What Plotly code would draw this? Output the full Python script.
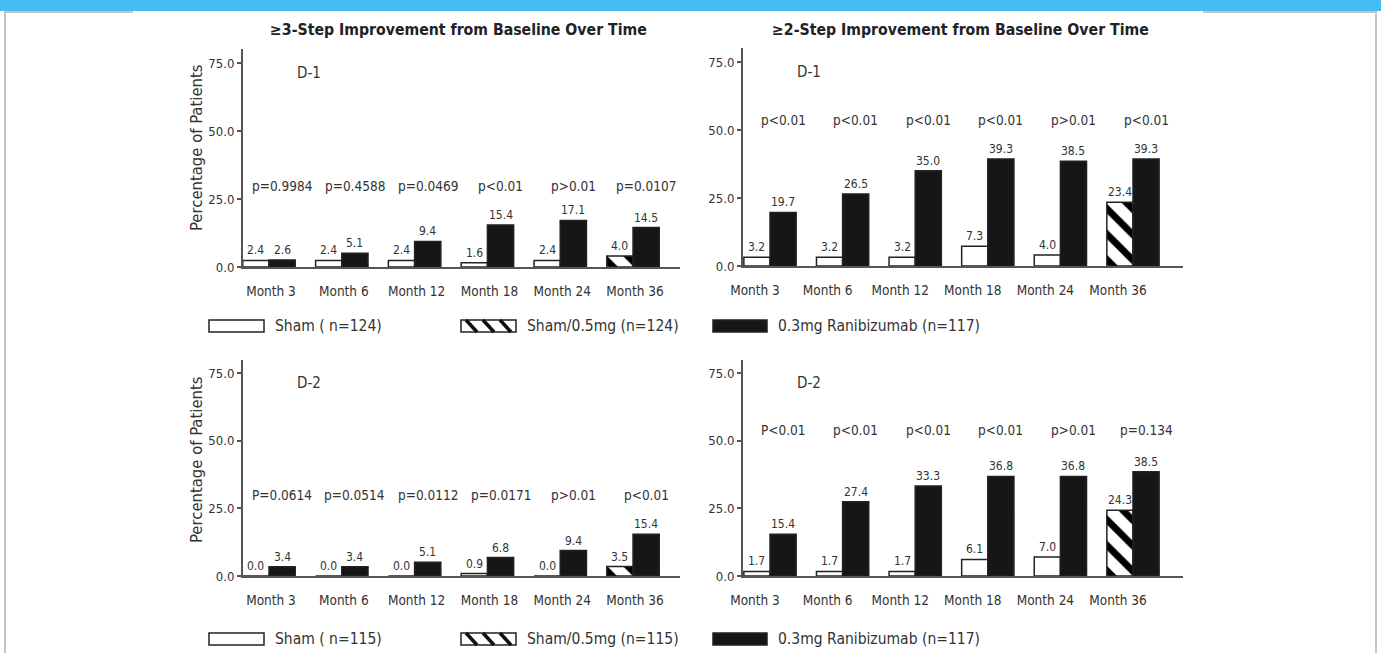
import plotly.graph_objects as go

# ---- data -------------------------------------------------------------
months = ["Month 3", "Month 6", "Month 12", "Month 18", "Month 24", "Month 36"]

# D-1, >=3-step improvement
d1_s3_sham = [2.4, 2.4, 2.4, 1.6, 2.4, None]
d1_s3_sham05 = [None, None, None, None, None, 4.0]
d1_s3_rbz = [2.6, 5.1, 9.4, 15.4, 17.1, 14.5]
d1_s3_p = ["p=0.9984", "p=0.4588", "p=0.0469", "p<0.01", "p>0.01", "p=0.0107"]

# D-1, >=2-step improvement
d1_s2_sham = [3.2, 3.2, 3.2, 7.3, 4.0, None]
d1_s2_sham05 = [None, None, None, None, None, 23.4]
d1_s2_rbz = [19.7, 26.5, 35.0, 39.3, 38.5, 39.3]
d1_s2_p = ["p<0.01", "p<0.01", "p<0.01", "p<0.01", "p>0.01", "p<0.01"]

# D-2, >=3-step improvement
d2_s3_sham = [0.0, 0.0, 0.0, 0.9, 0.0, None]
d2_s3_sham05 = [None, None, None, None, None, 3.5]
d2_s3_rbz = [3.4, 3.4, 5.1, 6.8, 9.4, 15.4]
d2_s3_p = ["P=0.0614", "p=0.0514", "p=0.0112", "p=0.0171", "p>0.01", "p<0.01"]

# D-2, >=2-step improvement
d2_s2_sham = [1.7, 1.7, 1.7, 6.1, 7.0, None]
d2_s2_sham05 = [None, None, None, None, None, 24.3]
d2_s2_rbz = [15.4, 27.4, 33.3, 36.8, 36.8, 38.5]
d2_s2_p = ["P<0.01", "p<0.01", "p<0.01", "p<0.01", "p>0.01", "p=0.134"]

legend_d1 = ["Sham ( n=124)", "Sham/0.5mg (n=124)", "0.3mg Ranibizumab (n=117)"]
legend_d2 = ["Sham ( n=115)", "Sham/0.5mg (n=115)", "0.3mg Ranibizumab (n=117)"]

col_titles = ["\u22653-Step Improvement from Baseline Over Time",
              "\u22652-Step Improvement from Baseline Over Time"]

# ---- styling ----------------------------------------------------------
W, H = 1381, 653
FONT = "Liberation Sans Narrow, Arial Narrow, DejaVu Sans Condensed, sans-serif"
TXT = "#333333"
AX = "#555555"
BAR_W = 0.36


def px(x):
    return x / W


def py(y):
    return 1 - y / H


panels = [
    # (sham, sham05, rbz, pvals, p_y, label, x-domain px, y-domain px, x-range, tick shift)
    (d1_s3_sham, d1_s3_sham05, d1_s3_rbz, d1_s3_p, 29.8, "D-1", (243, 680), (267, 49.4), (-0.357, 5.645), 2),
    (d1_s2_sham, d1_s2_sham05, d1_s2_rbz, d1_s2_p, 53.8, "D-1", (743, 1183), (266, 48.4), (-0.372, 5.689), -15),
    (d2_s3_sham, d2_s3_sham05, d2_s3_rbz, d2_s3_p, 29.8, "D-2", (243, 680), (576, 359.5), (-0.357, 5.645), 2),
    (d2_s2_sham, d2_s2_sham05, d2_s2_rbz, d2_s2_p, 53.8, "D-2", (743, 1183), (576, 359.5), (-0.372, 5.689), -15),
]

fig = go.Figure()
annotations = []
shapes = []
xs = list(range(len(months)))


def paper_text(x, y, text, size, color=TXT, xanchor="center", angle=0):
    return dict(x=px(x), y=py(y), xref="paper", yref="paper", text=text, showarrow=False,
                xanchor=xanchor, yanchor="middle", textangle=angle,
                font=dict(family=FONT, size=size, color=color))


for k, (sham, sham05, rbz, pvals, p_y, lab, xd, yd, xr, tshift) in enumerate(panels):
    n = "" if k == 0 else str(k + 1)
    xa, ya = "x" + n, "y" + n
    line = dict(color="#222222", width=1.5)
    fig.add_trace(go.Bar(x=xs, y=sham, xaxis=xa, yaxis=ya, offset=-BAR_W, width=BAR_W,
                         marker=dict(color="white", line=line), showlegend=False))
    fig.add_trace(go.Bar(x=xs, y=sham05, xaxis=xa, yaxis=ya, offset=-BAR_W, width=BAR_W,
                         marker=dict(color="white", line=line,
                                     pattern=dict(shape="\\", fgcolor="#000000", bgcolor="white",
                                                  fgopacity=1, size=18, solidity=0.38)),
                         showlegend=False))
    fig.add_trace(go.Bar(x=xs, y=rbz, xaxis=xa, yaxis=ya, offset=0, width=BAR_W,
                         marker=dict(color="#161616", line=line), showlegend=False))

    fig.layout["xaxis" + n] = dict(
        domain=[px(xd[0]), px(xd[1])], range=list(xr), anchor=ya, automargin=False,
        tickvals=xs, ticktext=months, ticks="", showgrid=False, zeroline=False,
        showline=True, linecolor=AX, linewidth=2,
        tickfont=dict(family=FONT, size=13.5, color=TXT), ticklabelshift=tshift,
        ticklabelstandoff=11, fixedrange=True)
    fig.layout["yaxis" + n] = dict(
        domain=[py(yd[0]), py(yd[1])], range=[0, 80], anchor=xa, automargin=False,
        tickvals=[0, 25, 50, 75], tickformat=".1f", ticks="outside", ticklen=4,
        tickcolor=AX, tickwidth=1.5, showgrid=False, zeroline=False,
        showline=True, linecolor=AX, linewidth=2,
        tickfont=dict(family=FONT, size=13, color=TXT), fixedrange=True)

    # values above bars
    for i in xs:
        left = sham[i] if sham[i] is not None else sham05[i]
        for val, xpos in ((left, i - BAR_W / 2), (rbz[i], i + BAR_W / 2)):
            annotations.append(dict(x=xpos, y=val, xref=xa, yref=ya, text=f"{val:.1f}",
                                    showarrow=False, xanchor="center", yanchor="bottom", yshift=1,
                                    font=dict(family=FONT, size=12, color=TXT)))
        annotations.append(dict(x=i + BAR_W / 2, y=p_y, xref=xa, yref=ya, text=pvals[i],
                                showarrow=False, xanchor="center", yanchor="middle",
                                font=dict(family=FONT, size=13.5, color=TXT)))
    # panel label
    annotations.append(dict(x=xr[0] + 0.72, y=71.5, xref=xa, yref=ya, text=lab, showarrow=False,
                            xanchor="left", yanchor="middle",
                            font=dict(family=FONT, size=15, color=TXT)))

# column titles
for t, cx in zip(col_titles, (458, 960)):
    annotations.append(paper_text(cx, 29, "<b>" + t + "</b>", 15.7, color="#222222"))

# y-axis titles
for cy in (148, 460):
    annotations.append(paper_text(196, cy, "Percentage of Patients", 16.5, angle=-90))

# legends
for names, ly in ((legend_d1, 326), (legend_d2, 639)):
    swatches = [(209, 264), (461, 516), (713, 767)]
    text_x = [273, 525, 776]
    for j, ((x0, x1), tx, name) in enumerate(zip(swatches, text_x, names)):
        fill = "#161616" if j == 2 else "white"
        shapes.append(dict(type="rect", xref="paper", yref="paper",
                           x0=px(x0), x1=px(x1), y0=py(ly + 6), y1=py(ly - 6),
                           fillcolor=fill, line=dict(color="#222222", width=1.5)))
        if j == 1:
            for d in (0, 17, 34):
                shapes.append(dict(type="line", xref="paper", yref="paper",
                                   x0=px(x0 + 5 + d), y0=py(ly - 6), x1=px(x0 + 16 + d), y1=py(ly + 6),
                                   line=dict(color="#111111", width=3.5)))
        annotations.append(paper_text(tx, ly, name, 15.5, xanchor="left"))

# page frame: blue header band and thin grey borders
shapes += [
    dict(type="rect", xref="paper", yref="paper", x0=0, x1=1, y0=py(11), y1=1,
         fillcolor="#45bdf0", line=dict(width=0), layer="below"),
    dict(type="rect", xref="paper", yref="paper", x0=px(4), x1=px(6), y0=0, y1=py(11),
         fillcolor="#c4c4c4", line=dict(width=0), layer="below"),
    dict(type="rect", xref="paper", yref="paper", x0=px(1375), x1=px(1377), y0=0, y1=py(11),
         fillcolor="#c4c4c4", line=dict(width=0), layer="below"),
    dict(type="rect", xref="paper", yref="paper", x0=px(4), x1=px(133), y0=py(13), y1=py(11),
         fillcolor="#c4c4c4", line=dict(width=0), layer="below"),
    dict(type="rect", xref="paper", yref="paper", x0=px(1203), x1=px(1377), y0=py(13), y1=py(11),
         fillcolor="#c4c4c4", line=dict(width=0), layer="below"),
]

fig.update_layout(
    template="none",
    width=W, height=H, margin=dict(l=0, r=0, t=0, b=0, pad=0), autosize=False,
    paper_bgcolor="white", plot_bgcolor="white", barmode="overlay",
    annotations=annotations, shapes=shapes, showlegend=False,
)

# pin the graph to the top-left corner of the page
pin = (
    "document.documentElement.style.margin='0';"
    "document.body.style.margin='0';"
    "document.body.style.overflow='hidden';"
    "var gd=document.getElementsByClassName('plotly-graph-div')[0];"
    "gd.style.position='fixed';gd.style.left='0px';gd.style.top='0px';"
)

fig.write_html("out.html", config={"displayModeBar": False, "responsive": False},
               post_script=pin)
